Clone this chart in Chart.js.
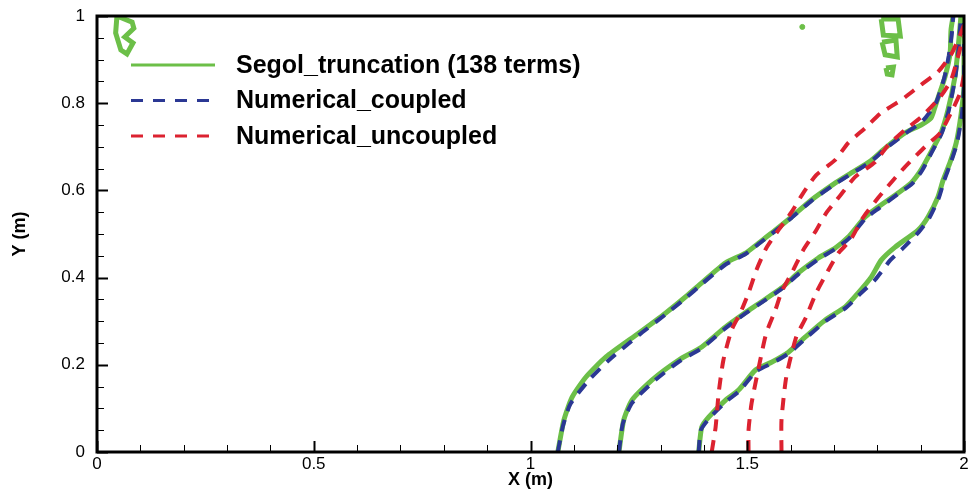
<!DOCTYPE html>
<html>
<head>
<meta charset="utf-8">
<script src="https://cdn.jsdelivr.net/npm/chart.js@4/dist/chart.umd.min.js"></script>
<style>
  html, body { margin: 0; padding: 0; background: #fff; }
  #wrap { width: 969px; height: 491px; }
</style>
</head>
<body>
<div id="wrap"><canvas id="myChart" width="969" height="491"></canvas></div>
<script>
// series names (legend)
var seriesNames = ['Segol_truncation (138 terms)', 'Numerical_coupled', 'Numerical_uncoupled'];

// axis ticks
var xTicks = [0, 0.5, 1, 1.5, 2];
var yTicks = [0, 0.2, 0.4, 0.6, 0.8, 1];

// Segol truncation, three times  [x, y]
var segol1 = [[1.063,0],[1.077,0.073],[1.096,0.126],[1.128,0.172],[1.174,0.218],[1.250,0.273],[1.312,0.319],[1.358,0.356],[1.395,0.388],[1.450,0.434],[1.496,0.456],[1.526,0.479],[1.565,0.509],[1.602,0.539],[1.648,0.578],[1.700,0.615],[1.740,0.640],[1.785,0.668],[1.818,0.697],[1.864,0.732],[1.901,0.750],[1.924,0.766],[1.933,0.791],[1.940,0.812],[1.956,0.860],[1.968,0.915],[1.970,0.968],[1.975,1.0]];
var segol2 = [[1.204,0],[1.215,0.073],[1.234,0.119],[1.280,0.165],[1.342,0.211],[1.395,0.241],[1.450,0.287],[1.496,0.320],[1.526,0.340],[1.579,0.376],[1.618,0.411],[1.664,0.445],[1.703,0.468],[1.733,0.493],[1.772,0.539],[1.802,0.562],[1.848,0.594],[1.878,0.617],[1.901,0.647],[1.925,0.690],[1.947,0.732],[1.963,0.784],[1.979,0.860],[1.986,0.922],[1.993,1.0]];
var segol3 = [[1.388,0],[1.395,0.057],[1.411,0.080],[1.450,0.119],[1.480,0.142],[1.519,0.188],[1.556,0.206],[1.595,0.229],[1.634,0.264],[1.680,0.303],[1.726,0.333],[1.756,0.365],[1.786,0.401],[1.809,0.440],[1.841,0.470],[1.894,0.509],[1.917,0.539],[1.940,0.585],[1.952,0.624],[1.968,0.665],[1.982,0.709],[1.993,0.773],[2.0,0.84],[2.0,1.0]];

// Numerical coupled
var coupled1 = [[1.063,0],[1.075,0.060],[1.092,0.110],[1.135,0.165],[1.180,0.210],[1.250,0.268],[1.312,0.316],[1.358,0.353],[1.395,0.385],[1.450,0.430],[1.496,0.454],[1.526,0.477],[1.565,0.507],[1.602,0.537],[1.648,0.576],[1.700,0.613],[1.740,0.638],[1.785,0.666],[1.818,0.695],[1.864,0.730],[1.905,0.760],[1.935,0.800],[1.955,0.860],[1.965,0.910],[1.972,0.960],[1.975,1.0]];
var coupled2 = [[1.204,0],[1.213,0.065],[1.234,0.112],[1.282,0.160],[1.342,0.207],[1.395,0.238],[1.450,0.284],[1.496,0.318],[1.526,0.338],[1.579,0.374],[1.618,0.408],[1.664,0.442],[1.703,0.466],[1.735,0.490],[1.772,0.535],[1.805,0.560],[1.848,0.592],[1.880,0.615],[1.903,0.645],[1.927,0.690],[1.949,0.732],[1.965,0.784],[1.980,0.860],[1.987,0.922],[1.993,1.0]];
var coupled3 = [[1.388,0],[1.393,0.050],[1.413,0.078],[1.452,0.116],[1.482,0.140],[1.521,0.185],[1.558,0.204],[1.597,0.227],[1.636,0.262],[1.682,0.301],[1.728,0.331],[1.760,0.362],[1.795,0.395],[1.830,0.440],[1.860,0.468],[1.896,0.505],[1.920,0.537],[1.942,0.583],[1.954,0.622],[1.970,0.665],[1.984,0.709],[1.995,0.773],[2.0,0.84],[2.0,1.0]];

// Numerical uncoupled
var uncoupled1 = [[1.418,0],[1.427,0.057],[1.434,0.135],[1.445,0.211],[1.464,0.280],[1.484,0.319],[1.503,0.365],[1.521,0.417],[1.544,0.468],[1.572,0.509],[1.602,0.550],[1.629,0.594],[1.659,0.635],[1.703,0.670],[1.733,0.709],[1.772,0.743],[1.809,0.778],[1.855,0.807],[1.894,0.837],[1.940,0.872],[1.970,0.911],[1.991,0.956],[2.0,0.98]];
var uncoupled2 = [[1.503,0],[1.503,0.050],[1.510,0.112],[1.530,0.211],[1.544,0.273],[1.565,0.326],[1.579,0.367],[1.606,0.417],[1.629,0.463],[1.657,0.505],[1.682,0.548],[1.715,0.589],[1.749,0.631],[1.795,0.665],[1.825,0.704],[1.864,0.739],[1.901,0.768],[1.945,0.814],[1.970,0.853],[1.986,0.906],[1.998,0.952]];
var uncoupled3 = [[1.579,0],[1.579,0.073],[1.590,0.172],[1.613,0.264],[1.636,0.310],[1.659,0.365],[1.687,0.417],[1.710,0.456],[1.738,0.486],[1.768,0.539],[1.802,0.583],[1.837,0.624],[1.864,0.654],[1.910,0.700],[1.945,0.732],[1.970,0.778],[1.991,0.823],[2.0,0.865]];

// stray contour bits of the Segol solution
var strayLoop = [[0.046,1.0],[0.081,0.986],[0.085,0.972],[0.064,0.952],[0.083,0.938],[0.069,0.913],[0.055,0.922],[0.043,0.961],[0.046,1.0]];
var straySq1 = [[1.809,0.993],[1.848,0.993],[1.853,0.954],[1.814,0.956],[1.809,0.993]];
var straySq2 = [[1.811,0.940],[1.843,0.945],[1.846,0.906],[1.818,0.911],[1.811,0.940]];
var strayBlob = [[1.820,0.881],[1.837,0.883],[1.834,0.865],[1.823,0.867],[1.820,0.881]];
var strayDot = [[1.627,0.975]];

var verde = '#6cbf48';
var azul = '#2b3894';
var rojo = '#dc2230';

function pts(arr) {
  return arr.map(function(p) { return {x: p[0], y: p[1]}; });
}

function linea(datos, color, dash, orden, suave) {
  return {
    data: pts(datos),
    showLine: true,
    borderColor: color,
    backgroundColor: color,
    borderWidth: dash ? 4 : 5,
    borderDash: dash || [],
    pointRadius: 0,
    tension: suave === false ? 0 : 0.2,
    order: orden
  };
}

var datasets = [
  linea(uncoupled1, rojo, [12, 9], 0),
  linea(uncoupled2, rojo, [12, 9], 0),
  linea(uncoupled3, rojo, [12, 9], 0),
  linea(coupled1, azul, [12, 9], 1),
  linea(coupled2, azul, [12, 9], 1),
  linea(coupled3, azul, [12, 9], 1),
  linea(segol1, verde, null, 2),
  linea(segol2, verde, null, 2),
  linea(segol3, verde, null, 2),
  linea(strayLoop, verde, null, 2, false),
  linea(straySq1, verde, null, 2, false),
  linea(straySq2, verde, null, 2, false),
  linea(strayBlob, verde, null, 2, false)
];
datasets.push({
  data: pts(strayDot), showLine: false, pointRadius: 2.5,
  backgroundColor: verde, borderColor: verde, order: 2
});

// leyenda dentro del grafico
var leyenda = {
  id: 'leyenda',
  afterDatasetsDraw: function(chart) {
    var ctx = chart.ctx;
    var a = chart.chartArea;
    var estilos = [[verde, []], [azul, [12, 10]], [rojo, [12, 10]]];
    ctx.save();
    for (var i = 0; i < seriesNames.length; i++) {
      var y = a.top + 49 + i * 35.5;
      ctx.beginPath();
      ctx.setLineDash(estilos[i][1]);
      ctx.lineWidth = 3;
      ctx.strokeStyle = estilos[i][0];
      ctx.moveTo(a.left + 34, y);
      ctx.lineTo(a.left + 118, y);
      ctx.stroke();
      ctx.setLineDash([]);
      ctx.fillStyle = '#000';
      ctx.font = 'bold 25px "Liberation Sans", Arial, sans-serif';
      ctx.textBaseline = 'middle';
      ctx.fillText(seriesNames[i], a.left + 139, y + 1);
    }
    ctx.restore();
  }
};

// marco y marcas hacia adentro
var marco = {
  id: 'marco',
  afterDraw: function(chart) {
    var ctx = chart.ctx;
    var a = chart.chartArea;
    var sx = chart.scales.x, sy = chart.scales.y;
    ctx.save();
    ctx.strokeStyle = '#000';
    var v, p, mayor;
    for (var i = 0; i <= 20; i++) {
      v = i / 10;
      mayor = (i % 5 === 0);
      p = Math.round(sx.getPixelForValue(v)) + 0.5;
      ctx.lineWidth = mayor ? 2 : 1;
      ctx.beginPath();
      ctx.moveTo(p, a.bottom);
      ctx.lineTo(p, a.bottom - (mayor ? 11 : 7));
      ctx.stroke();
    }
    for (var j = 0; j <= 20; j++) {
      v = j / 20;
      mayor = (j % 4 === 0);
      p = Math.round(sy.getPixelForValue(v)) + 0.5;
      ctx.lineWidth = mayor ? 2 : 1;
      ctx.beginPath();
      ctx.moveTo(a.left, p);
      ctx.lineTo(a.left + (mayor ? 11 : 7), p);
      ctx.stroke();
    }
    ctx.lineWidth = 3;
    ctx.strokeRect(a.left, a.top, a.right - a.left, a.bottom - a.top);
    ctx.restore();
  }
};

function etiqueta(v) {
  return String(+Number(v).toFixed(2));
}

var ctx = document.getElementById('myChart').getContext('2d');
var myChart = new Chart(ctx, {
  type: 'scatter',
  data: { datasets: datasets },
  plugins: [leyenda, marco],
  options: {
    responsive: false,
    animation: false,
    layout: { padding: { top: 16, right: 3, left: 0, bottom: 0 } },
    plugins: { legend: { display: false }, tooltip: { enabled: false } },
    scales: {
      x: {
        type: 'linear', min: 0, max: 2,
        afterBuildTicks: function(s) { s.ticks = xTicks.map(function(v) { return {value: v}; }); },
        afterFit: function(s) { s.height = 39; s.paddingLeft = 0; s.paddingRight = 0; },
        grid: { display: false, drawTicks: false },
        border: { display: false },
        ticks: { color: '#000', padding: 2, maxRotation: 0, font: { family: '"Liberation Sans", Arial', size: 17 }, callback: etiqueta },
        title: { display: true, text: 'X (m)', color: '#000', padding: { top: 0, bottom: 0 }, font: { family: '"Liberation Sans", Arial', size: 18, weight: 'bold' } }
      },
      y: {
        type: 'linear', min: 0, max: 1,
        afterBuildTicks: function(s) { s.ticks = yTicks.map(function(v) { return {value: v}; }); },
        afterFit: function(s) { s.width = 97; s.paddingTop = 0; s.paddingBottom = 0; },
        grid: { display: false, drawTicks: false },
        border: { display: false },
        ticks: { color: '#000', padding: 12, font: { family: '"Liberation Sans", Arial', size: 17 }, callback: etiqueta },
        title: { display: true, text: 'Y (m)', color: '#000', padding: { top: 9, bottom: 0 }, font: { family: '"Liberation Sans", Arial', size: 18, weight: 'bold' } }
      }
    }
  }
});
</script>
</body>
</html>
